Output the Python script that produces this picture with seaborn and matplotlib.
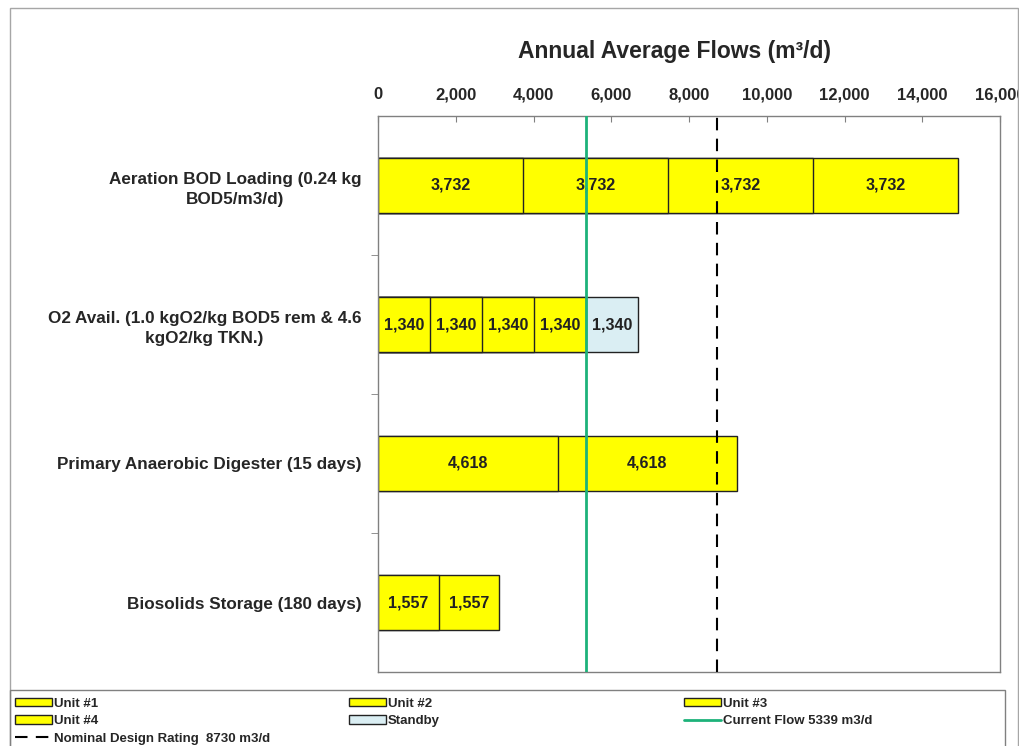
import numpy as np
import pandas as pd
import seaborn as sns
import matplotlib.pyplot as plt
from matplotlib.patches import Patch, Rectangle
from matplotlib.lines import Line2D
from matplotlib.ticker import FuncFormatter, FixedLocator

# chart values
categories = ["Aeration BOD Loading (0.24 kg\nBOD5/m3/d)",
              "O2 Avail. (1.0 kgO2/kg BOD5 rem & 4.6\nkgO2/kg TKN.)",
              "Primary Anaerobic Digester (15 days)",
              "Biosolids Storage (180 days)"]
unit1 = [3732, 1340, 4618, 1557]
unit2 = [3732, 1340, 4618, 1557]
unit3 = [3732, 1340, np.nan, np.nan]
unit4 = [3732, 1340, np.nan, np.nan]
standby = [np.nan, 1340, np.nan, np.nan]
current_flow = 5339
nominal_rating = 8730

series_names = ["Unit #1", "Unit #2", "Unit #3", "Unit #4", "Standby"]
yellow = "#FFFF00"
blue = "#DAEEF3"
series_colors = [yellow, yellow, yellow, yellow, blue]
green = "#1DB27A"

df = pd.DataFrame({"Unit #1": unit1, "Unit #2": unit2, "Unit #3": unit3,
                   "Unit #4": unit4, "Standby": standby}, index=categories)
cum = df.fillna(0).cumsum(axis=1).where(df.notna())

sns.set_style("white")
plt.rcParams['font.family'] = ['Liberation Sans', 'DejaVu Sans']
plt.rcParams['font.weight'] = 'bold'

fig = plt.figure(figsize=(10.2, 7.46), dpi=100)
ax = fig.add_axes([378 / 1020, 1 - 672 / 746, (1000 - 378) / 1020, (672 - 116) / 746])

# stacked bars: draw cumulative totals from the outermost segment inward
for name, col in reversed(list(zip(series_names, series_colors))):
    sns.barplot(x=cum[name].values, y=categories, orient="h", color=col,
                edgecolor="#222222", linewidth=1.0, width=0.4, ax=ax,
                saturation=1)

# value labels in the middle of each segment
for i, cat in enumerate(categories):
    for name in series_names:
        v = df.loc[cat, name]
        if pd.notna(v):
            ax.text(cum.loc[cat, name] - v / 2, i, f"{v:,.0f}", ha="center",
                    va="center", fontsize=11.5, fontweight="bold", color="#222222")

ax.axvline(current_flow, color=green, lw=2, zorder=5)
ax.axvline(nominal_rating, color="black", lw=1.5, dashes=(6, 4), zorder=5)

ax.set_xlim(0, 16000)
ax.set_ylim(3.5, -0.5)
ax.xaxis.tick_top()
ax.xaxis.set_label_position("top")
ax.set_xticks(np.arange(0, 16001, 2000))
ax.xaxis.set_major_formatter(FuncFormatter(lambda v, p: f"{v:,.0f}"))
ax.tick_params(axis="x", direction="in", length=4, color="#808080",
               labelsize=12, pad=10)
for t in ax.get_xticklabels():
    t.set_fontweight("bold")
ax.set_xlabel("Annual Average Flows (m³/d)", fontsize=16.5, fontweight="bold",
              labelpad=21)
ax.xaxis.label.set_x(0.477)

ax.set_ylabel("")
ax.set_yticks(range(len(categories)))
ax.set_yticklabels(categories, fontsize=12.3, fontweight="bold",
                   multialignment="center", linespacing=1.45)
ax.tick_params(axis="y", which="major", length=0, pad=12)
ax.yaxis.set_minor_locator(FixedLocator([0.5, 1.5, 2.5]))
ax.tick_params(axis="y", which="minor", length=5, color="#808080", direction="out", left=True)

for s in ax.spines.values():
    s.set_color("#808080")
    s.set_linewidth(1)

# outer chart border
fig.patches.append(Rectangle((10 / 1020, -0.02), 1008 / 1020, 1 - 8 / 746 + 0.02,
                             transform=fig.transFigure, fill=False,
                             edgecolor="#a6a6a6", lw=1))
# legend border
fig.patches.append(Rectangle((10 / 1020, -0.02), 995 / 1020, 1 - 690 / 746 + 0.02,
                             transform=fig.transFigure, fill=False,
                             edgecolor="#808080", lw=1))

h = {n: Patch(facecolor=c, edgecolor="#222222", lw=1) for n, c in zip(series_names, series_colors)}
h_cur = Line2D([], [], color=green, lw=2)
h_nom = Line2D([], [], color="black", lw=1.5, dashes=(6, 4))
legend_cols = [
    ([h["Unit #1"], h["Unit #4"], h_nom], ["Unit #1", "Unit #4", "Nominal Design Rating  8730 m3/d"], 12),
    ([h["Unit #2"], h["Standby"]], ["Unit #2", "Standby"], 346),
    ([h["Unit #3"], h_cur], ["Unit #3", "Current Flow 5339 m3/d"], 681),
]
for hs, ls, x0 in legend_cols:
    fig.legend(hs, ls, loc="upper left", bbox_to_anchor=(x0 / 1020, 1 - 695 / 746),
               borderaxespad=0, frameon=False, prop={"size": 9.5, "weight": "bold"},
               handlelength=2.8, handleheight=0.6, handletextpad=0.15,
               labelspacing=0.42, borderpad=0.2)

fig.savefig("out.png", dpi=100)
